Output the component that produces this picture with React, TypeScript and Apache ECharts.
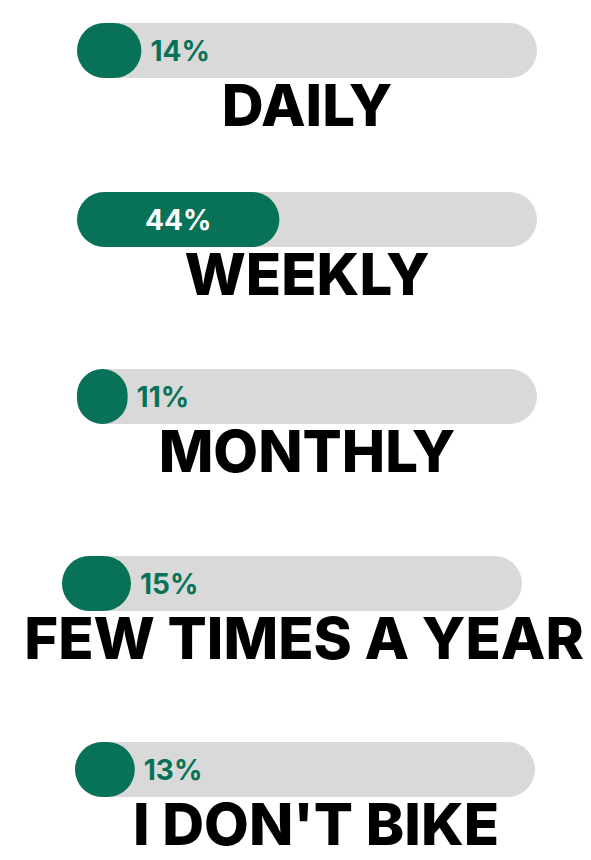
import React, { useEffect, useRef } from "react";
import * as echarts from "echarts";

const categories = ["DAILY", "WEEKLY", "MONTHLY", "FEW TIMES A YEAR", "I DON'T BIKE"];
const values = [14, 44, 11, 15, 13];
const trackMax = 100;

// layout (pixels) for each row
const rowTops = [23, 192, 369, 556, 742];
const rowLefts = [77, 77, 77, 62, 75];
const labelShiftX = [0, 0, 0, 12, 11];

const GREEN = "#077257";
const GRAY = "#d9d9d9";
const FONT = "Inter, 'Noto Sans', sans-serif";

export default function App() {
  const ref = useRef<HTMLDivElement>(null);
  useEffect(() => {
    if (!ref.current) return;
    const chart = echarts.init(ref.current, undefined, { renderer: "svg" });
    const grid: any[] = [];
    const xAxis: any[] = [];
    const yAxis: any[] = [];
    const series: any[] = [];
    categories.forEach((cat, i) => {
      grid.push({ left: rowLefts[i], top: rowTops[i], width: 460, height: 55 });
      xAxis.push({ type: "value", gridIndex: i, min: 0, max: trackMax, show: false });
      yAxis.push({ type: "category", gridIndex: i, data: [cat], show: false });
      const inside = values[i] >= 30;
      series.push({
        type: "bar",
        xAxisIndex: i,
        yAxisIndex: i,
        data: [trackMax],
        barWidth: 55,
        barGap: "-100%",
        z: 1,
        silent: true,
        itemStyle: { color: GRAY, borderRadius: 27.5 },
        label: {
          show: true,
          position: "bottom",
          distance: 0,
          offset: [labelShiftX[i], -2],
          formatter: () => cat,
          color: "#000",
          fontFamily: FONT,
          fontWeight: 800,
          fontSize: 58,
          lineHeight: 58,
        },
      });
      series.push({
        type: "bar",
        xAxisIndex: i,
        yAxisIndex: i,
        data: [values[i]],
        barWidth: 55,
        barGap: "-100%",
        z: 2,
        itemStyle: { color: GREEN, borderRadius: 27.5 },
        label: {
          show: true,
          position: inside ? "inside" : "right",
          distance: 9,
          formatter: "{c}%",
          color: inside ? "#fff" : GREEN,
          fontFamily: FONT,
          fontWeight: 700,
          fontSize: 28,
        },
      });
    });
    chart.setOption({
      animation: false,
      backgroundColor: "#fff",
      grid,
      xAxis,
      yAxis,
      series,
    });
    return () => chart.dispose();
  }, []);
  return <div ref={ref} style={{ width: 591, height: 860, position: "absolute", left: 0, top: 0 }} />;
}
